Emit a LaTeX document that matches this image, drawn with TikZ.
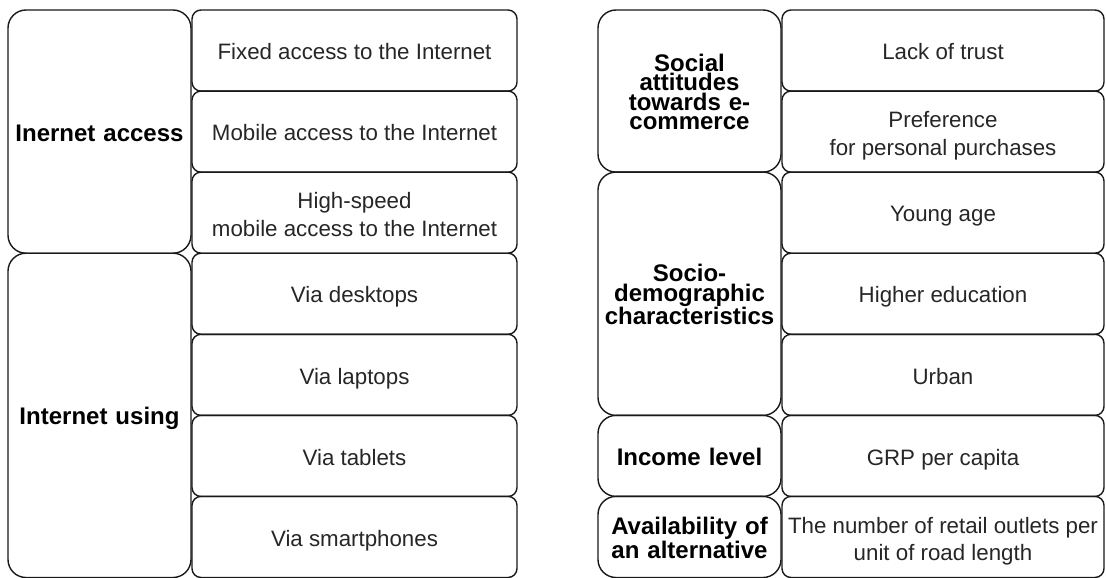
\documentclass[tikz,border=0pt]{standalone}
\usepackage{fontspec}
\setmainfont{Liberation Sans}
% struts that fix the first-line height and last-line depth of multi-line texts
\newcommand\itemtop{\rule{0pt}{25pt}}
\newcommand\grouptop{\rule{0pt}{19pt}}
\newcommand\lastdepth{\rule[-5pt]{0pt}{5pt}}
\begin{document}
\begin{tikzpicture}[x=1pt,y=-1pt,
  box/.style={draw=black!90, line width=1.4pt, inner sep=0pt, outer sep=0pt,
    align=center, anchor=north west},
  group/.style={box, rounded corners=18pt, text width=176pt,
    font=\fontsize{24}{19.5}\selectfont\bfseries},
  group1/.style={group, text height=19.2pt, text depth=0pt},
  item/.style={box, rounded corners=9pt, text=black!85,
    font=\fontsize{22.3}{27.8}\selectfont},
  item1/.style={item, text height=23.4pt, text depth=5pt},
]
\useasboundingbox (0,0) rectangle (1106,578);

% left panel: access and use of the Internet
\node[group1, minimum width=183pt, minimum height=243.2pt] (acc) at (8,10) {Inernet access};
\node[group1, minimum width=183pt, minimum height=324.3pt] (use) at (8,253.2) {Internet using};

\node[item1, minimum width=325pt, minimum height=81.1pt] (fix) at (192,10) {Fixed access to the Internet};
\node[item1, minimum width=325pt, minimum height=81.1pt] (mob) at (192,91.1) {Mobile access to the Internet};
\node[item, minimum width=325pt, minimum height=81.1pt] (hsp) at (192,172.1) {\itemtop High-speed\\mobile access to the Internet\lastdepth};
\node[item1, minimum width=325pt, minimum height=81.1pt] (dsk) at (192,253.2) {Via desktops};
\node[item1, minimum width=325pt, minimum height=81.1pt] (lap) at (192,334.3) {Via laptops};
\node[item1, minimum width=325pt, minimum height=81.1pt] (tab) at (192,415.4) {Via tablets};
\node[item1, minimum width=325pt, minimum height=81.1pt] (smp) at (192,496.4) {Via smartphones};

% right panel: other factors
\node[group, minimum width=183pt, minimum height=162.1pt] (soc) at (598,10) {\grouptop Social\\attitudes\\towards e-\\commerce};
\node[group, minimum width=183pt, minimum height=243.3pt] (dem) at (598,172.1) {\grouptop Socio-\\demographic\\characteristics};
\node[group1, minimum width=183pt, minimum height=81pt] (inc) at (598,415.4) {Income level};
\node[group, minimum width=183pt, minimum height=81.1pt] (alt) at (598,496.4) {\grouptop Availability of\\an alternative};

\node[item1, minimum width=322pt, minimum height=81.1pt] (tru) at (782,10) {Lack of trust};
\node[item, minimum width=322pt, minimum height=81.1pt] (prf) at (782,91.1) {\itemtop Preference\\for personal purchases\lastdepth};
\node[item1, minimum width=322pt, minimum height=81.1pt] (yng) at (782,172.1) {Young age};
\node[item1, minimum width=322pt, minimum height=81.1pt] (edu) at (782,253.2) {Higher education};
\node[item1, minimum width=322pt, minimum height=81.1pt] (urb) at (782,334.3) {Urban};
\node[item1, minimum width=322pt, minimum height=81.1pt] (grp) at (782,415.4) {GRP per capita};
\node[item, minimum width=322pt, minimum height=81.1pt] (ret) at (782,496.4) {\itemtop The number of retail outlets per\\unit of road length\lastdepth};
\end{tikzpicture}
\end{document}
